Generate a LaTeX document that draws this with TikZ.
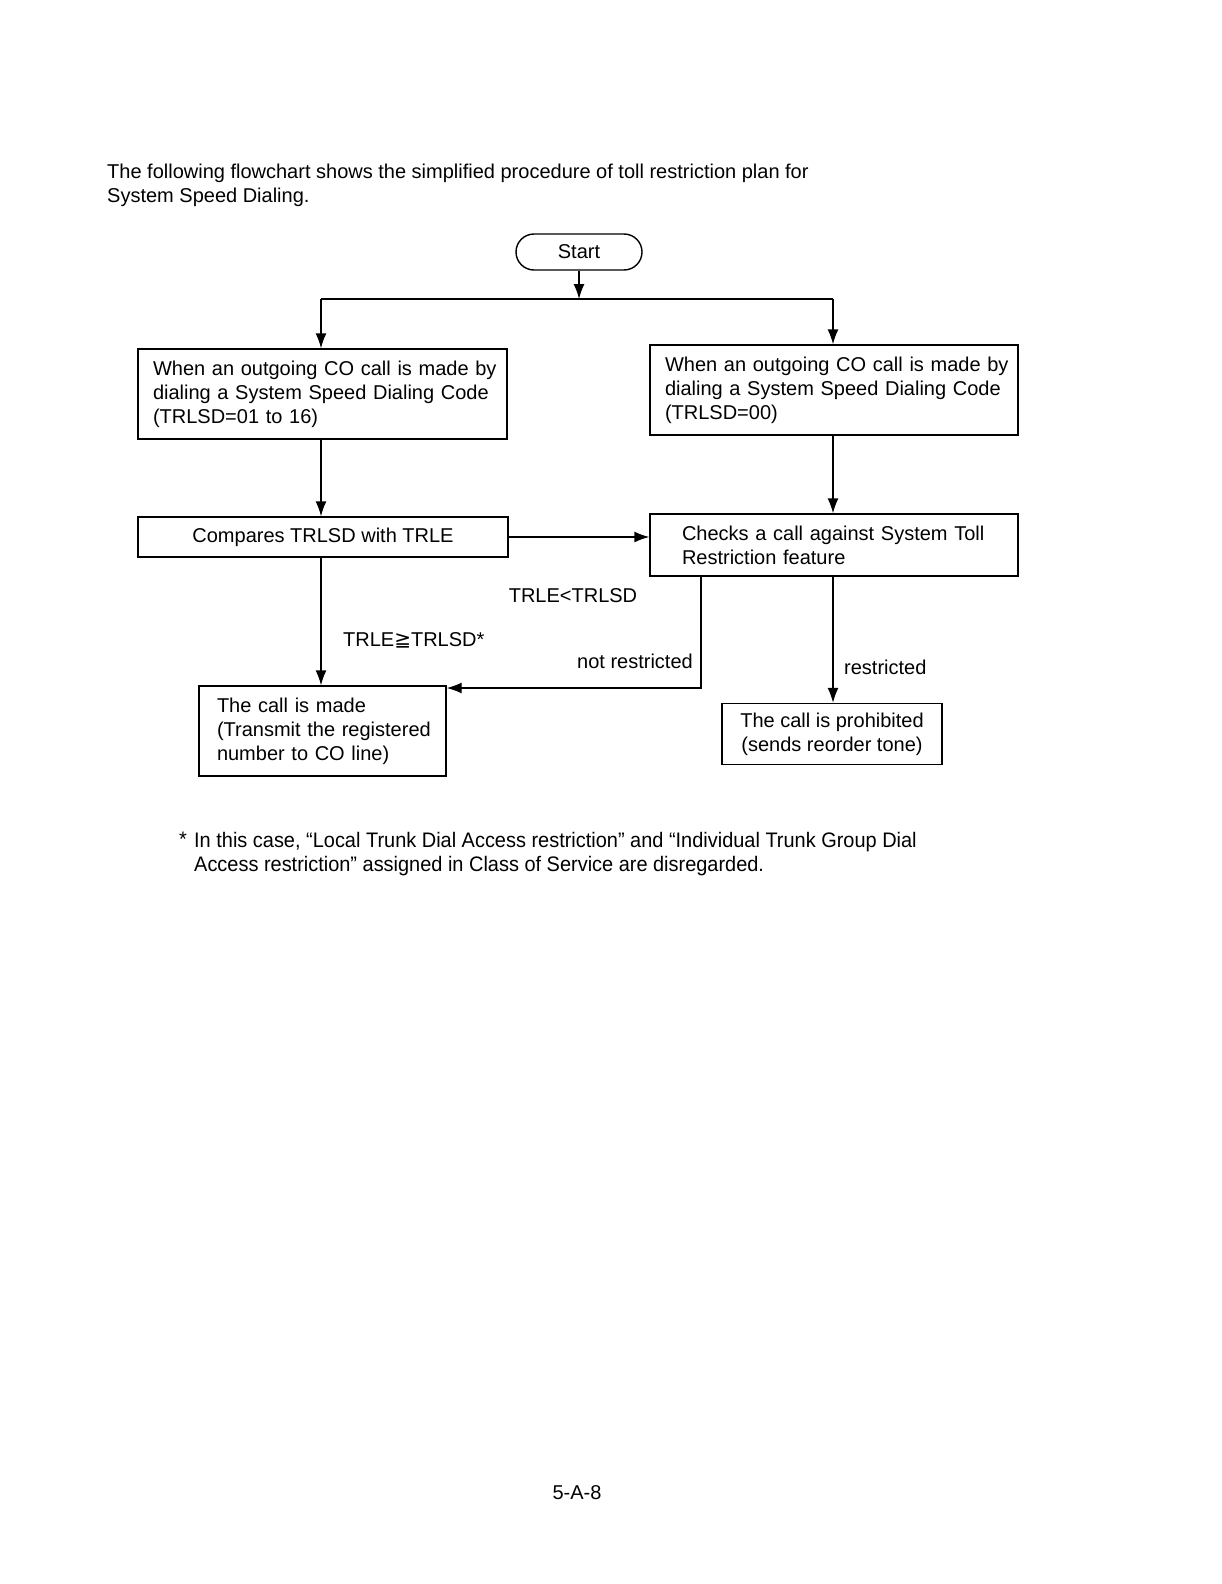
\documentclass[tikz,border=0pt]{standalone}
\usepackage{fontspec}
\setmainfont{Liberation Sans}
\newfontfamily\symfont{DejaVu Sans}
\newfontfamily\condfont[FakeStretch=0.95]{Liberation Sans}
\usetikzlibrary{arrows.meta}
\begin{document}
\begin{tikzpicture}[x=1pt,y=-1pt,
  font=\fontsize{20}{24}\selectfont,
  box/.style={draw, line width=1.4pt, rectangle, inner ysep=0pt},
  lbox/.style={box, align=left},
  arr/.style={line width=1.4pt, -{Latex[length=15pt,width=11pt]}},
  conn/.style={line width=1.4pt},
  lbl/.style={inner sep=0pt}]
\useasboundingbox (0,0) rectangle (1222,1584);
\fill[white] (0,0) rectangle (1222,1584);

% header
\node[lbl, anchor=base west, align=left] (head) at (107,202)
  {The following flowchart shows the simplified procedure of toll restriction plan for\\System Speed Dialing.};

% start
\node[box, rounded corners=18pt, minimum width=126pt, minimum height=36pt] (start) at (579,252) {Start};

\coordinate (split) at (579,299);
\coordinate (jl) at (321,299);
\coordinate (jr) at (833,299);

% boxes
\node[lbox, minimum width=369pt, minimum height=90pt, text width=339pt, inner xsep=15pt] (b1) at (322.5,394)
  {\mbox{When an outgoing CO call is made by}\\\mbox{dialing a System Speed Dialing Code}\\\mbox{(TRLSD=01 to 16)}};
\node[lbox, minimum width=368pt, minimum height=90pt, text width=338pt, inner xsep=15pt] (b2) at (834,390)
  {\mbox{When an outgoing CO call is made by}\\\mbox{dialing a System Speed Dialing Code}\\\mbox{(TRLSD=00)}};
\node[box, minimum width=370pt, minimum height=40pt] (b3) at (323,537) {Compares TRLSD with TRLE};
\node[lbox, minimum width=368pt, minimum height=62pt, text width=304pt, inner xsep=32pt] (b4) at (834,545)
  {\mbox{Checks a call against System Toll}\\\mbox{Restriction feature}};
\node[lbox, minimum width=247pt, minimum height=90pt, text width=211pt, inner xsep=18pt] (b5) at (322.5,731)
  {\mbox{The call is made}\\\mbox{(Transmit the registered}\\\mbox{number to CO line)}};
\node[box, align=center, minimum width=220pt, minimum height=61pt] (b6) at (832,734)
  {The call is prohibited\\(sends reorder tone)};

% connectors
\draw[arr] (start.south) -- (split);
\draw[conn] (jl) -- (jr);
\draw[arr] (jl) -- (jl |- b1.north);
\draw[arr] (jr) -- (jr |- b2.north);
\draw[arr] (b1.south -| jl) -- (b3.north -| jl);
\draw[arr] (b2.south -| jr) -- (b4.north -| jr);
\draw[arr] (b3.east) -- (b3.east -| b4.west);
\draw[arr] (b3.south -| jl) -- (b5.north -| jl);
\coordinate (nr) at (701,688);
\draw[arr] (b4.south -| nr) -- (nr) -- (nr -| b5.east);
\draw[arr] (b4.south -| jr) -- (b6.north -| jr);

% labels
\node[lbl] (l1) at (573,596) {TRLE<TRLSD};
\node[lbl, anchor=west] (l2) at (343,640) {TRLE{\symfont ≧}TRLSD*};
\node[lbl, anchor=east] (l3) at (693,661) {not restricted};
\node[lbl, anchor=west] (l4) at (844,667) {restricted};

% footnote
\node[lbl, anchor=base west, font=\condfont\fontsize{21}{24}\selectfont] (star) at (179,846) {*};
\node[lbl, anchor=base west, align=left, font=\condfont\fontsize{21}{24}\selectfont] (foot) at (194,871)
  {In this case, “Local Trunk Dial Access restriction” and “Individual Trunk Group Dial\\Access restriction” assigned in Class of Service are disregarded.};

% page number
\node[lbl] (page) at (577,1493) {5-A-8};
\end{tikzpicture}
\end{document}
